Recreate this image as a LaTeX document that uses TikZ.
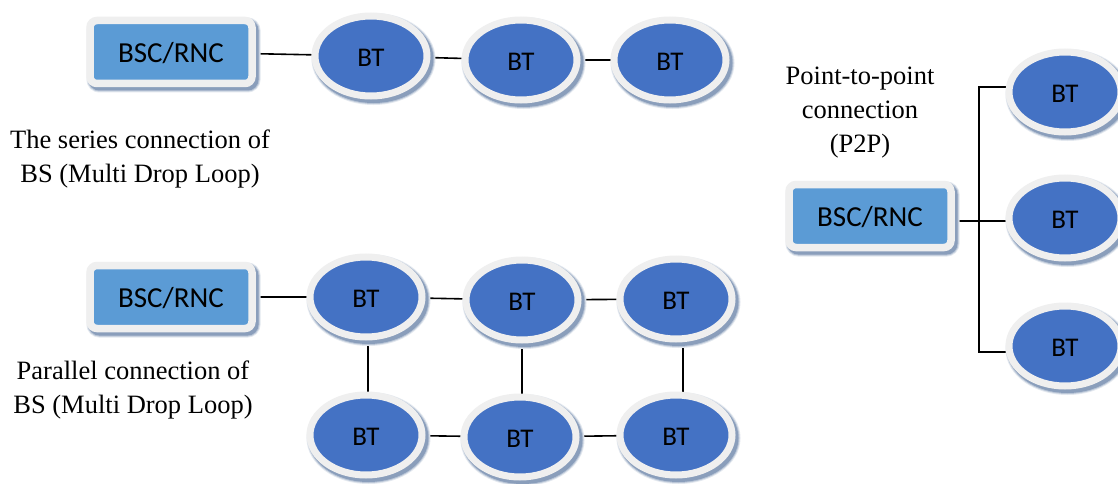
\documentclass[tikz,border=0pt]{standalone}
\usepackage{fontspec}
\setmainfont{Liberation Serif}
\newfontfamily\labelsans{Carlito}
\usetikzlibrary{shapes.geometric}
\definecolor{btblue}{HTML}{4472C4}
\definecolor{ctrlblue}{HTML}{5B9BD5}
\definecolor{rim}{HTML}{EFEFEF}
\definecolor{shadeA}{HTML}{E3E8EF}
\definecolor{shadeB}{HTML}{BAC6D7}
\definecolor{shadeC}{HTML}{8A9EBB}
\pgfdeclarelayer{background}
\pgfsetlayers{background,main}
\tikzset{
  softshadow/.style={
    preaction={draw=shadeA, fill=shadeA, line width=12pt,
      transform canvas={xshift=2.5pt,yshift=-3pt}},
    preaction={draw=shadeB, fill=shadeB, line width=10pt,
      transform canvas={xshift=2.5pt,yshift=-3pt}},
    preaction={draw=shadeC, fill=shadeC, line width=8pt,
      transform canvas={xshift=2.5pt,yshift=-3pt}}
  },
  bt/.style={ellipse, softshadow, fill=btblue, draw=rim, line width=7pt,
    minimum width=112pt, minimum height=80pt, inner sep=0pt,
    text height=21pt, text depth=0pt,
    font=\labelsans\fontsize{27}{30}\selectfont, text=black},
  ctrl/.style={rectangle, rounded corners=7pt, softshadow, fill=ctrlblue,
    draw=rim, line width=7.5pt, minimum width=162pt, minimum height=63pt,
    inner sep=0pt, text height=21pt, text depth=0pt,
    font=\labelsans\fontsize{29}{32}\selectfont, text=black},
  caption/.style={align=center, inner sep=0pt,
    font=\fontsize{26.5}{34}\selectfont},
  wire/.style={draw=black, line width=1.6pt}
}
\begin{document}
\begin{tikzpicture}[x=1pt, y=-1pt]
\useasboundingbox (0,0) rectangle (1118,484);

% series chain
\node[ctrl] (c1) at (171,52) {BSC/RNC};
\node[bt] (a1) at (371,56) {BT};
\node[bt] (a2) at (521,60) {BT};
\node[bt] (a3) at (670,60) {BT};
\node[caption] (cap1) at (140,159) {The series connection of\\BS (Multi Drop Loop)};

% parallel ladder
\node[ctrl] (c2) at (171,297) {BSC/RNC};
\node[bt] (p1) at (366,297) {BT};
\node[bt] (p2) at (522,300) {BT};
\node[bt] (p3) at (676,299) {BT};
\node[bt] (q1) at (366,435) {BT};
\node[bt] (q2) at (520,437) {BT};
\node[bt] (q3) at (676,435) {BT};
\node[caption] (cap2) at (133,390) {Parallel connection of\\BS (Multi Drop Loop)};

% point-to-point star
\node[ctrl] (c3) at (870,216) {BSC/RNC};
\node[bt] (r1) at (1065,92) {BT};
\node[bt] (r2) at (1065,218) {BT};
\node[bt] (r3) at (1065,346) {BT};
\node[caption] (cap3) at (860,113) {Point-to-point\\connection\\(P2P)};
\coordinate (trunk) at (979,221);

\begin{pgfonlayer}{background}
  \fill[white] (0,0) rectangle (1118,484);
  \draw[wire] (c1) -- (a1);
  \draw[wire] (a1) -- (a2);
  \draw[wire] (a2) -- (a3);
  \draw[wire] (c2) -- (p1);
  \draw[wire] (p1) -- (p2);
  \draw[wire] (p2) -- (p3);
  \draw[wire] (q1) -- (q2);
  \draw[wire] (q2) -- (q3);
  \draw[wire] ([xshift=2pt]p1.center) -- ([xshift=2pt]q1.center);
  \draw[wire] (p2) -- ([xshift=2pt]q2.center);
  \draw[wire] ([xshift=7pt]p3.center) -- ([xshift=7pt]q3.center);
  \draw[wire] (c3.center |- trunk) -- (r2.center |- trunk);
  \draw[wire] ([yshift=5pt]r1.center) -| (trunk) |- ([yshift=-6pt]r3.center);
\end{pgfonlayer}
\end{tikzpicture}
\end{document}
